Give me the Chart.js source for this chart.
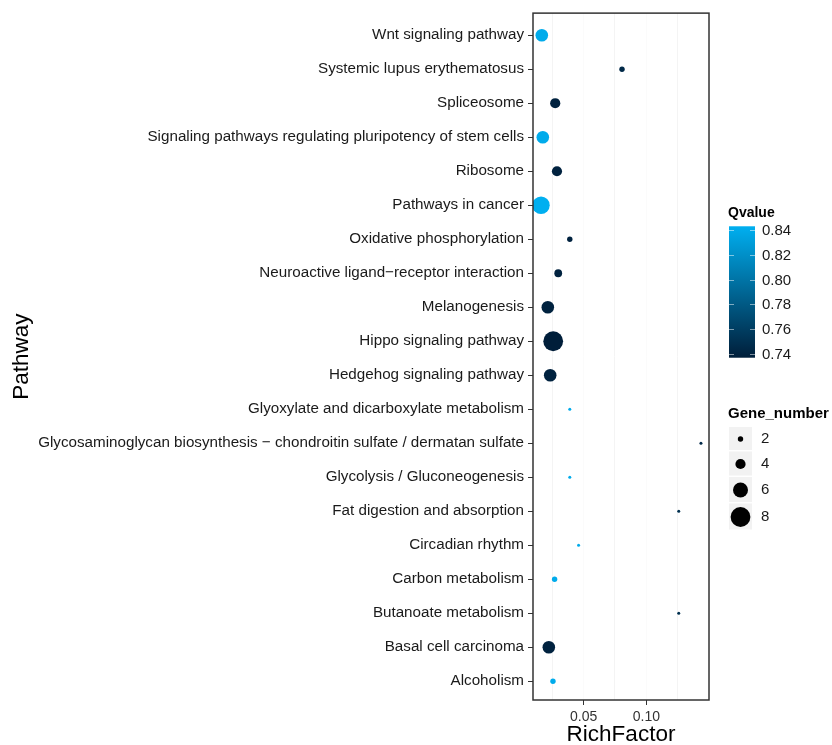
<!DOCTYPE html>
<html>
<head>
<meta charset="utf-8">
<script src="https://cdn.jsdelivr.net/npm/chart.js@4"></script>
<style>
  html, body { margin: 0; padding: 0; background: #fff; }
  canvas { display: block; }
</style>
</head>
<body>
<canvas id="grafico" width="832" height="745"></canvas>
<script>
// datos
const pathways = [
  "Wnt signaling pathway",
  "Systemic lupus erythematosus",
  "Spliceosome",
  "Signaling pathways regulating pluripotency of stem cells",
  "Ribosome",
  "Pathways in cancer",
  "Oxidative phosphorylation",
  "Neuroactive ligand\u2212receptor interaction",
  "Melanogenesis",
  "Hippo signaling pathway",
  "Hedgehog signaling pathway",
  "Glyoxylate and dicarboxylate metabolism",
  "Glycosaminoglycan biosynthesis \u2212 chondroitin sulfate / dermatan sulfate",
  "Glycolysis / Gluconeogenesis",
  "Fat digestion and absorption",
  "Circadian rhythm",
  "Carbon metabolism",
  "Butanoate metabolism",
  "Basal cell carcinoma",
  "Alcoholism"
];
const richFactor = [0.0167, 0.0806, 0.0274, 0.0175, 0.0288, 0.0161, 0.039, 0.0298, 0.0215, 0.0258,
                    0.0234, 0.039, 0.1435, 0.039, 0.1258, 0.046, 0.0269, 0.1258, 0.0223, 0.0256];
const geneNumber = [5, 2, 4, 5, 4, 7, 2, 3, 5, 8,
                    5, 1, 1, 1, 1, 1, 2, 1, 5, 2];
const qValue = [0.84, 0.745, 0.74, 0.84, 0.74, 0.843, 0.74, 0.74, 0.74, 0.737,
                0.74, 0.84, 0.745, 0.84, 0.75, 0.84, 0.84, 0.75, 0.74, 0.84];
const xTickLabels = [0.05, 0.10];
const xGrid = [0.025, 0.05, 0.075, 0.10, 0.125];
const qTicks = [0.74, 0.76, 0.78, 0.80, 0.82, 0.84];
const sizeTicks = [2, 4, 6, 8];

const qMin = Math.min(...qValue);
const qMax = Math.max(...qValue);
const colBajo = [0, 30, 58];
const colAlto = [0, 175, 240];
const fuente = '"Liberation Sans", Arial, sans-serif';

function colorQ(q) {
  let t = (q - qMin) / (qMax - qMin);
  let c = colBajo.map((b, i) => Math.round(b + (colAlto[i] - b) * t));
  return 'rgb(' + c.join(',') + ')';
}
function radio(n) {
  return 0.3 + 1.2 * n;
}

const puntos = pathways.map((p, i) => ({ x: richFactor[i], y: i }));

// leyendas a la derecha (estilo ggplot)
const leyendas = {
  id: 'leyendas',
  afterDatasetsDraw(chart) {
    const ctx = chart.ctx;
    const a = chart.chartArea;
    ctx.save();
    // borde del panel
    ctx.strokeStyle = '#333';
    ctx.lineWidth = 1.5;
    ctx.strokeRect(a.left, a.top, a.right - a.left, a.bottom - a.top);

    // barra de color Qvalue
    const y74 = 354, y84 = 230;
    const yq = q => y74 - (q - 0.74) / 0.10 * (y74 - y84);
    const top = yq(qMax), bot = yq(qMin);
    const x0 = 729, w = 26;
    ctx.fillStyle = '#000';
    ctx.font = 'bold 14px ' + fuente;
    ctx.textBaseline = 'middle';
    ctx.textAlign = 'left';
    ctx.fillText('Qvalue', 728, 213);
    let g = ctx.createLinearGradient(0, bot, 0, top);
    g.addColorStop(0, colorQ(qMin));
    g.addColorStop(1, colorQ(qMax));
    ctx.fillStyle = g;
    ctx.fillRect(x0, top, w, bot - top);
    ctx.strokeStyle = 'rgba(255,255,255,0.5)';
    ctx.lineWidth = 1;
    ctx.font = '15px ' + fuente;
    qTicks.forEach(q => {
      let y = Math.round(yq(q)) + 0.5;
      ctx.beginPath();
      ctx.moveTo(x0, y); ctx.lineTo(x0 + 5, y);
      ctx.moveTo(x0 + w - 5, y); ctx.lineTo(x0 + w, y);
      ctx.stroke();
      ctx.fillStyle = '#1a1a1a';
      ctx.fillText(q.toFixed(2), x0 + w + 7, y);
    });

    // leyenda de tamaños
    ctx.fillStyle = '#000';
    ctx.font = 'bold 15px ' + fuente;
    ctx.fillText('Gene_number', 728, 414);
    const centros = [439, 464, 490, 517];
    const altos = [24, 25, 26, 27];
    ctx.font = '15px ' + fuente;
    sizeTicks.forEach((n, i) => {
      ctx.fillStyle = '#f2f2f2';
      ctx.fillRect(729, centros[i] - altos[i] / 2, 23, altos[i] - 1);
      ctx.fillStyle = '#000';
      ctx.beginPath();
      ctx.arc(740.5, centros[i], radio(n), 0, Math.PI * 2);
      ctx.fill();
      ctx.fillStyle = '#1a1a1a';
      ctx.fillText(String(n), 761, centros[i]);
    });
    ctx.restore();
  }
};

let contexto = document.getElementById('grafico').getContext('2d');
let opciones = {
  type: 'scatter',
  data: {
    datasets: [{
      label: 'RichFactor',
      data: puntos,
      backgroundColor: qValue.map(colorQ),
      borderWidth: 0,
      pointRadius: geneNumber.map(radio),
      pointHoverRadius: geneNumber.map(radio)
    }]
  },
  options: {
    responsive: false,
    devicePixelRatio: 1,
    animation: false,
    events: [],
    layout: { padding: { left: 10, right: 123, top: 13, bottom: 0 } },
    plugins: { legend: { display: false }, tooltip: { enabled: false } },
    scales: {
      x: {
        type: 'linear',
        min: 0.0097,
        max: 0.1499,
        afterBuildTicks: s => { s.ticks = xGrid.map(v => ({ value: v })); },
        afterFit: s => { s.height = 45; },
        border: { display: false },
        grid: {
          color: c => xTickLabels.includes(c.tick.value) ? '#fbfbfb' : '#f4f4f4',
          tickColor: c => xTickLabels.includes(c.tick.value) ? '#333' : 'rgba(0,0,0,0)',
          tickLength: 5,
          lineWidth: 1
        },
        ticks: {
          autoSkip: false,
          maxRotation: 0,
          padding: 4,
          color: '#333',
          font: { size: 14, family: fuente },
          callback: v => xTickLabels.includes(v) ? v.toFixed(2) : ''
        },
        title: {
          display: true,
          text: 'RichFactor',
          color: '#000',
          font: { size: 22.5, family: fuente, lineHeight: 1 },
          padding: { top: 0, bottom: -1 }
        }
      },
      y: {
        type: 'linear',
        min: -0.65,
        max: 19.55,
        reverse: true,
        afterBuildTicks: s => { s.ticks = pathways.map((p, i) => ({ value: i })); },
        afterFit: s => { s.width = 523; },
        border: { display: false },
        grid: {
          drawOnChartArea: false,
          drawTicks: true,
          tickLength: 5,
          tickColor: '#333',
          color: 'rgba(0,0,0,0)'
        },
        ticks: {
          autoSkip: false,
          padding: 4,
          color: '#1a1a1a',
          font: { size: 15.2, family: fuente },
          callback: v => pathways[v]
        },
        title: {
          display: true,
          text: 'Pathway',
          color: '#000',
          font: { size: 22.5, family: fuente, lineHeight: 1 },
          padding: { top: 1, bottom: 0 }
        }
      }
    }
  },
  plugins: [leyendas]
};

let grafica = new Chart(contexto, opciones);
</script>
</body>
</html>
